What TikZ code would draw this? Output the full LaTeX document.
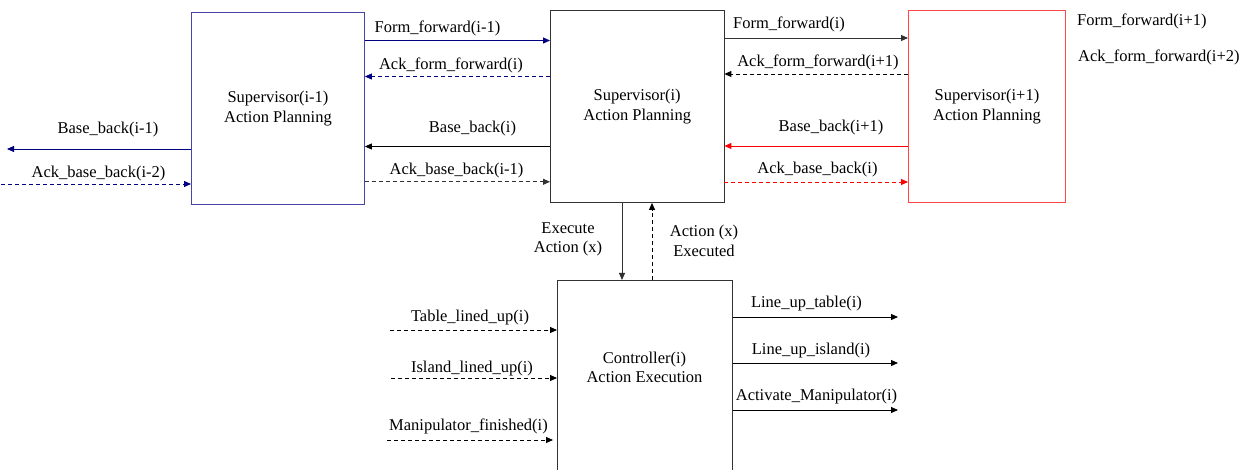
\documentclass[tikz,border=0pt]{standalone}
\usepackage{fontspec}
\setmainfont{Liberation Serif}
\usetikzlibrary{arrows.meta}
\definecolor{navyline}{RGB}{0,0,128}
\definecolor{bluebox}{RGB}{70,70,170}
\definecolor{darkbox}{RGB}{50,50,50}
\definecolor{redbox}{RGB}{255,70,70}
\begin{document}
\begin{tikzpicture}[x=1pt,y=-1pt,
  every node/.style={font=\fontsize{16.5}{19.5}\selectfont},
  block/.style={draw=darkbox, rectangle, inner sep=0pt, anchor=north west,
    align=center, line width=0.9pt},
  sig/.style={line width=0.9pt, -{Triangle[length=7pt,width=6pt]}},
  ack/.style={sig, dash pattern=on 4pt off 3pt},
  lbl/.style={anchor=base, inner sep=0pt},
  lblw/.style={anchor=base west, inner sep=0pt}]
\useasboundingbox (0,0) rectangle (1248,470);

% planning and execution blocks
\node[block, draw=bluebox, minimum width=173pt, minimum height=192pt] (sa) at (191,12)
  {Supervisor(i-1)\\Action Planning};
\node[block, minimum width=173.5pt, minimum height=192pt] (sb) at (550,10)
  {Supervisor(i)\\Action Planning};
\node[block, draw=redbox, minimum width=157pt, minimum height=192pt] (sc) at (908,10)
  {Supervisor(i+1)\\Action Planning};
\node[block, minimum width=175pt, minimum height=200pt] (ctrl) at (557,280) {};
\node[align=center, inner sep=0pt] (ctrltext) at (644.5,367.5)
  {Controller(i)\\Action Execution};

% signal levels and free ends
\coordinate (ya) at (0,40.5);
\coordinate (yb) at (0,76.5);
\coordinate (yc) at (0,146.5);
\coordinate (yd) at (0,181.8);
\coordinate (ye) at (0,38);
\coordinate (yf) at (0,74);
\coordinate (yg) at (0,146);
\coordinate (yh) at (0,182);
\coordinate (bbout) at (7,149);
\coordinate (abin) at (1,184);
\coordinate (exdown) at (622,0);
\coordinate (exup) at (652,0);
\coordinate (tin) at (390,330);
\coordinate (iin) at (391,378);
\coordinate (minp) at (387,440);
\coordinate (tout) at (898,317);
\coordinate (iout) at (898,363);
\coordinate (mout) at (898,410);

% left neighbour
\draw[sig, navyline] (sa.west |- bbout) -- (bbout);
\draw[ack, navyline] (abin) -- (sa.west |- abin);

% between supervisor(i-1) and supervisor(i)
\draw[sig, navyline] (sa.east |- ya) -- (sb.west |- ya);
\draw[ack, navyline] (sb.west |- yb) -- (sa.east |- yb);
\draw[sig, black] (sb.west |- yc) -- (sa.east |- yc);
\draw[ack, darkbox] (sa.east |- yd) -- (sb.west |- yd);

% between supervisor(i) and supervisor(i+1)
\draw[sig, darkbox] (sb.east |- ye) -- (sc.west |- ye);
\draw[ack, black] (sc.west |- yf) -- (sb.east |- yf);
\draw[sig, red] (sc.west |- yg) -- (sb.east |- yg);
\draw[ack, red] (sb.east |- yh) -- (sc.west |- yh);

% planning <-> execution
\draw[sig, darkbox] (sb.south -| exdown) -- (ctrl.north -| exdown);
\draw[ack, black] (ctrl.north -| exup) -- (sb.south -| exup);

% controller inputs and outputs
\draw[ack, black] (tin) -- (ctrl.west |- tin);
\draw[ack, black] (iin) -- (ctrl.west |- iin);
\draw[ack, black, shorten >=4pt] (minp) -- (ctrl.west |- minp);
\draw[sig, black] (ctrl.east |- tout) -- (tout);
\draw[sig, black] (ctrl.east |- iout) -- (iout);
\draw[sig, black] (ctrl.east |- mout) -- (mout);

% labels
\node[lbl] (l1) at (437.5,32.7) {Form\_forward(i-1)};
\node[lbl] (l2) at (451,69.3) {Ack\_form\_forward(i)};
\node[lbl] (l3) at (472.5,132.3) {Base\_back(i)};
\node[lbl] (l4) at (456.5,175) {Ack\_base\_back(i-1)};
\node[lbl] (l5) at (108,134) {Base\_back(i-1)};
\node[lbl] (l6) at (98.5,177.7) {Ack\_base\_back(i-2)};
\node[lbl] (l7) at (789,29) {Form\_forward(i)};
\node[lbl] (l8) at (818,67) {Ack\_form\_forward(i+1)};
\node[lbl] (l9) at (831,132) {Base\_back(i+1)};
\node[lbl] (l10) at (817.5,174) {Ack\_base\_back(i)};
\node[lblw] (l11) at (1077,25.7) {Form\_forward(i+1)};
\node[lblw] (l12) at (1078,61.7) {Ack\_form\_forward(i+2)};
\node[align=center, inner sep=0pt] (l13) at (568,239.5) {Execute\\Action (x)};
\node[align=center, inner sep=0pt] (l14) at (704,241) {Action (x)\\Executed};
\node[lbl] (l15) at (470,322) {Table\_lined\_up(i)};
\node[lbl] (l16) at (472,372) {Island\_lined\_up(i)};
\node[lbl] (l17) at (468.5,430) {Manipulator\_finished(i)};
\node[lbl] (l18) at (806.5,308) {Line\_up\_table(i)};
\node[lbl] (l19) at (811,355) {Line\_up\_island(i)};
\node[lbl] (l20) at (816.5,400) {Activate\_Manipulator(i)};
\end{tikzpicture}
\end{document}
